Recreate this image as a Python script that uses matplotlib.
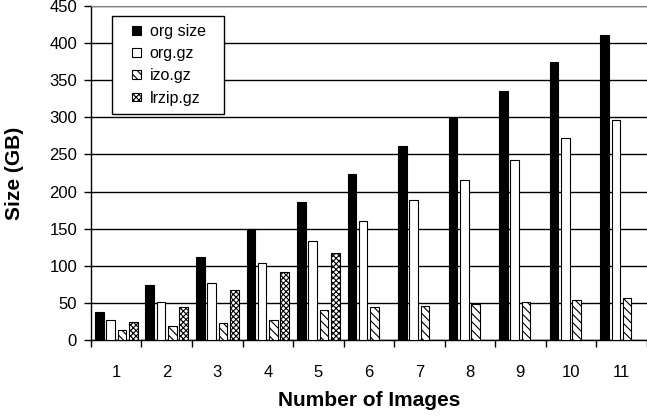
import numpy as np
import matplotlib
matplotlib.use("Agg")
import matplotlib.pyplot as plt
from matplotlib.patches import Rectangle
from matplotlib.container import BarContainer
from matplotlib.legend_handler import HandlerPatch, update_from_first_child

plt.rcParams['font.family'] = ['Liberation Sans', 'DejaVu Sans']
plt.rcParams['hatch.linewidth'] = 0.8

# data
images = np.arange(1, 12)
org_size = [38, 74, 112, 150, 186, 224, 262, 299, 336, 374, 411]
org_gz = [27, 51, 77, 104, 134, 160, 189, 215, 243, 272, 297]
izo_gz = [14, 19, 23, 27, 40, 44, 46, 49, 51, 54, 57]
lrzip_gz = [24, 45, 67, 92, 117]


def small_square(legend, orig_handle, xdescent, ydescent, width, height, fontsize):
    # little square at the right end of the handle box, like the excel legend
    s = height
    return Rectangle((width - s - xdescent, -ydescent), s, s)


fig = plt.figure(figsize=(6.47, 4.16), dpi=100)
ax = fig.add_axes([0.1406, 0.1827, 0.859, 0.8029])

w = 0.17
step = 0.224
ax.bar(images - 1.5*step, org_size, w, color='black', edgecolor='black', lw=0.8, label='org size', zorder=3)
ax.bar(images - 0.5*step, org_gz, w, color='white', edgecolor='black', lw=0.8, label='org.gz', zorder=3)
ax.bar(images + 0.5*step, izo_gz, w, color='white', edgecolor='black', lw=0.8, hatch='\\\\\\\\', label='izo.gz', zorder=3)
ax.bar(images[:len(lrzip_gz)] + 1.5*step, lrzip_gz, w, color='white', edgecolor='black', lw=0.8, hatch='xxxxxx', label='lrzip.gz', zorder=3)

ax.set_xlim(0.5, 11.5)
ax.set_ylim(0, 450)
ax.set_yticks(range(0, 451, 50))
ax.yaxis.grid(True, color='black', lw=1.0, zorder=0)
ax.set_axisbelow(True)

ax.set_xticks(images)
ax.set_xticks(np.arange(0.5, 12, 1), minor=True)
ax.tick_params(axis='x', which='major', length=0, pad=18, labelsize=12)
ax.tick_params(axis='x', which='minor', length=5, width=1, direction='out')
ax.tick_params(axis='y', length=5, width=1, direction='out', labelsize=12, pad=5)

ax.spines['right'].set_visible(False)
ax.spines['top'].set_color('gray')
ax.spines['left'].set_linewidth(1)
ax.spines['bottom'].set_linewidth(1)

ax.set_xlabel('Number of Images', fontsize=15, fontweight='bold', labelpad=8)
ax.set_ylabel('Size (GB)', fontsize=15, fontweight='bold', labelpad=18)

sq = HandlerPatch(patch_func=small_square, update_func=update_from_first_child)
leg = ax.legend(loc='upper left', bbox_to_anchor=(0.038, 0.0, 0.201, 0.97), mode='expand',
                fontsize=11.5, frameon=True, fancybox=False, edgecolor='black', framealpha=1,
                handlelength=1.3, handleheight=0.45, handletextpad=0.55, labelspacing=0.45,
                borderpad=0.5, borderaxespad=0, handler_map={BarContainer: sq})
leg.get_frame().set_linewidth(1)

fig.savefig('out.png', dpi=100)
